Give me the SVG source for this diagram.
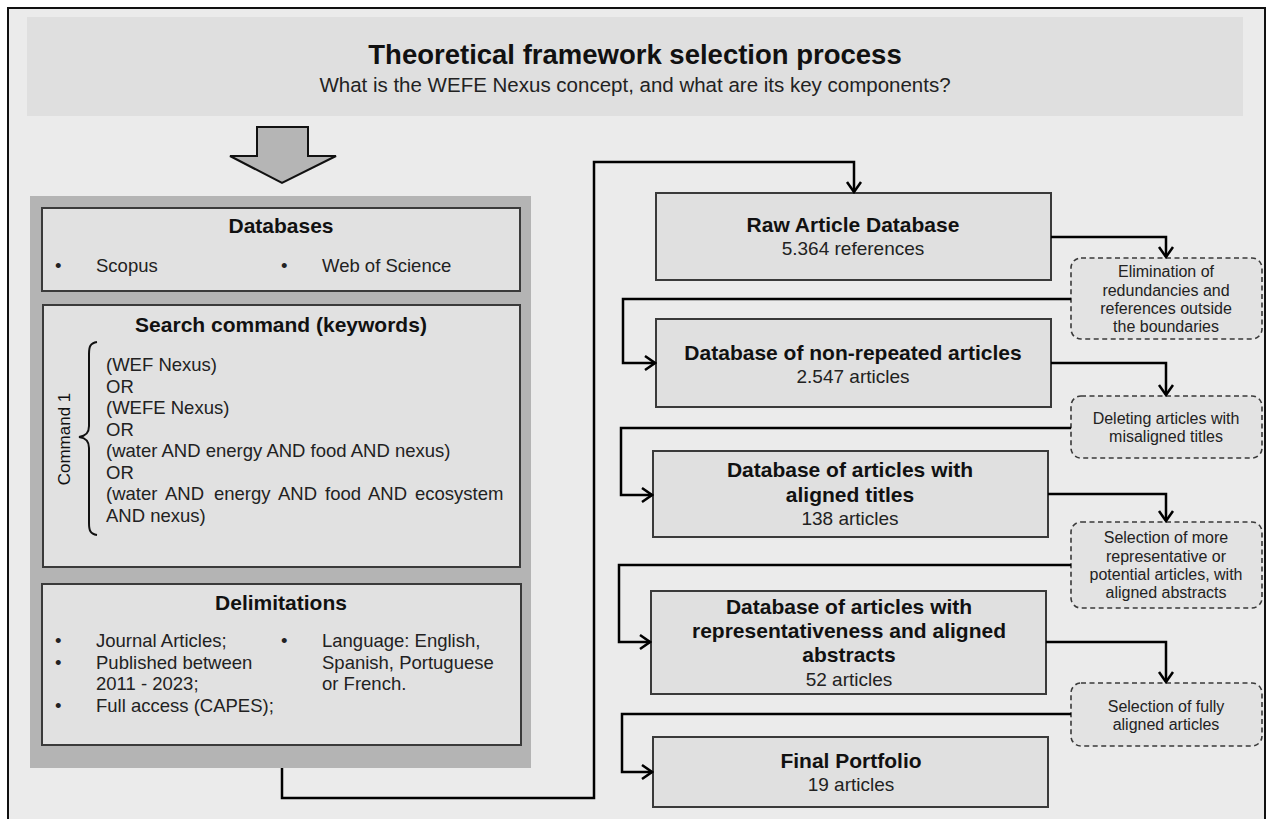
<svg xmlns="http://www.w3.org/2000/svg" width="1273" height="819" viewBox="0 0 1273 819">
<defs>
<style>
.t{font-family:"Liberation Sans",Arial,sans-serif;fill:#111}
.b{font-weight:bold}
.c{text-anchor:middle}
.title{font-size:27.5px}
.sub{font-size:20.5px;fill:#222}
.hd{font-size:21px}
.body{font-size:18.5px;fill:#222}
.cnt{font-size:19px;fill:#222}
.dt{font-size:16px;fill:#222}
.box{fill:#e0e0e0;stroke:#3a3a3a;stroke-width:2}
.ibox{fill:#e1e1e1;stroke:#3a3a3a;stroke-width:2}
.dbox{fill:#e3e3e3;stroke:#3a3a3a;stroke-width:1.6;stroke-dasharray:5 3.5}
.con{fill:none;stroke:#000;stroke-width:2.5}
</style>
<marker id="ah" viewBox="-13 -9 15 18" refX="0" refY="0" markerWidth="15" markerHeight="18" orient="auto" markerUnits="userSpaceOnUse">
<path d="M-10,-7 L0,0 L-10,7" fill="none" stroke="#000" stroke-width="2.5"/>
</marker>
</defs>
<rect x="0" y="0" width="1273" height="819" fill="#ffffff"/>
<rect x="8" y="8" width="1257" height="840" fill="#ebebeb" stroke="#111" stroke-width="2"/>

<g id="title">
<rect x="27" y="17" width="1216" height="99" fill="#dfdfdf"/>
<text class="t b c title" x="635" y="64">Theoretical framework selection process</text>
<text class="t c sub" x="635" y="92">What is the WEFE Nexus concept, and what are its key components?</text>
</g>

<g id="big-arrow">
<polygon points="257,127 308,127 308,156 336,156 282,183 230,156 257,156" fill="#b5b5b5" stroke="#111" stroke-width="2" stroke-linejoin="miter"/>
</g>

<g id="left-panel">
<rect x="30" y="196" width="501" height="572" fill="#b4b4b4"/>
</g>

<g id="databases">
<rect class="ibox" x="42" y="208" width="478" height="83"/>
<text class="t b c hd" x="281" y="233">Databases</text>
<text class="t body" x="55" y="272">•</text>
<text class="t body" x="96" y="272">Scopus</text>
<text class="t body" x="281" y="272">•</text>
<text class="t body" x="322" y="272">Web of Science</text>
</g>

<g id="search-command">
<rect class="ibox" x="43" y="305" width="477" height="262"/>
<text class="t b c hd" x="281" y="332">Search command (keywords)</text>
<path d="M97,342 C90,343 89,347 89,354 L89,426 C89,433 86,436 79,437 C86,438 89,441 89,448 L89,523 C89,530 90,534 97,535" fill="none" stroke="#111" stroke-width="2"/>
<text class="t c" font-size="17" fill="#222" x="70" y="439" transform="rotate(-90 70 439)">Command 1</text>
<text class="t body" x="106" y="371">(WEF Nexus)</text>
<text class="t body" x="106" y="392.5">OR</text>
<text class="t body" x="106" y="414">(WEFE Nexus)</text>
<text class="t body" x="106" y="435.5">OR</text>
<text class="t body" x="106" y="457">(water AND energy AND food AND nexus)</text>
<text class="t body" x="106" y="478.5">OR</text>
<text class="t body" y="500"><tspan x="106">(water</tspan><tspan x="165">AND</tspan><tspan x="214">energy</tspan><tspan x="278">AND</tspan><tspan x="325">food</tspan><tspan x="368">AND</tspan><tspan x="415">ecosystem</tspan></text>
<text class="t body" x="106" y="521.5">AND nexus)</text>
</g>

<g id="delimitations">
<rect class="ibox" x="42" y="584" width="479" height="161"/>
<text class="t b c hd" x="281" y="610">Delimitations</text>
<text class="t body" x="55" y="647">•</text>
<text class="t body" x="96" y="647">Journal Articles;</text>
<text class="t body" x="55" y="669">•</text>
<text class="t body" x="96" y="669">Published between</text>
<text class="t body" x="96" y="690">2011 - 2023;</text>
<text class="t body" x="55" y="712">•</text>
<text class="t body" x="96" y="712">Full access (CAPES);</text>
<text class="t body" x="281" y="647">•</text>
<text class="t body" x="322" y="647">Language: English,</text>
<text class="t body" x="322" y="669">Spanish, Portuguese</text>
<text class="t body" x="322" y="690">or French.</text>
</g>

<g id="raw-article-database">
<rect class="box" x="656" y="193" width="395" height="87"/>
<text class="t b c hd" x="853" y="232">Raw Article Database</text>
<text class="t c cnt" x="853" y="255">5.364 references</text>
</g>

<g id="non-repeated">
<rect class="box" x="656" y="319" width="395" height="88"/>
<text class="t b c hd" x="853" y="360">Database of non-repeated articles</text>
<text class="t c cnt" x="853" y="383">2.547 articles</text>
</g>

<g id="aligned-titles">
<rect class="box" x="653" y="451" width="395" height="86"/>
<text class="t b c hd" x="850" y="477">Database of articles with</text>
<text class="t b c hd" x="850" y="502">aligned titles</text>
<text class="t c cnt" x="850" y="525">138 articles</text>
</g>

<g id="aligned-abstracts">
<rect class="box" x="651" y="591" width="395" height="103"/>
<text class="t b c hd" x="849" y="614">Database of articles with</text>
<text class="t b c hd" x="849" y="638">representativeness and aligned</text>
<text class="t b c hd" x="849" y="662">abstracts</text>
<text class="t c cnt" x="849" y="686">52 articles</text>
</g>

<g id="final-portfolio">
<rect class="box" x="653" y="737" width="395" height="70"/>
<text class="t b c hd" x="851" y="768">Final Portfolio</text>
<text class="t c cnt" x="851" y="791">19 articles</text>
</g>

<g id="step-elimination">
<rect class="dbox" x="1071" y="258" width="191" height="81" rx="10"/>
<text class="t c dt" x="1166" y="277">Elimination of</text>
<text class="t c dt" x="1166" y="295.5">redundancies and</text>
<text class="t c dt" x="1166" y="314">references outside</text>
<text class="t c dt" x="1166" y="332">the boundaries</text>
</g>

<g id="step-deleting">
<rect class="dbox" x="1071" y="396" width="191" height="62" rx="10"/>
<text class="t c dt" x="1166" y="424">Deleting articles with</text>
<text class="t c dt" x="1166" y="442">misaligned titles</text>
</g>

<g id="step-representative">
<rect class="dbox" x="1071" y="522" width="191" height="86" rx="10"/>
<text class="t c dt" x="1166" y="543">Selection of more</text>
<text class="t c dt" x="1166" y="562">representative or</text>
<text class="t c dt" x="1166" y="580">potential articles, with</text>
<text class="t c dt" x="1166" y="598">aligned abstracts</text>
</g>

<g id="step-fully">
<rect class="dbox" x="1071" y="683" width="191" height="63" rx="10"/>
<text class="t c dt" x="1166" y="712">Selection of fully</text>
<text class="t c dt" x="1166" y="730">aligned articles</text>
</g>

<g id="connectors">
<path class="con" d="M282,768 V798 H594 V162 H854 V192" marker-end="url(#ah)"/>
<path class="con" d="M1051,237 H1166 V257" marker-end="url(#ah)"/>
<path class="con" d="M1071,299 H623 V363 H655" marker-end="url(#ah)"/>
<path class="con" d="M1051,363 H1166 V395" marker-end="url(#ah)"/>
<path class="con" d="M1071,428 H621 V495 H652" marker-end="url(#ah)"/>
<path class="con" d="M1048,494 H1166 V521" marker-end="url(#ah)"/>
<path class="con" d="M1071,565 H619 V642 H650" marker-end="url(#ah)"/>
<path class="con" d="M1046,642 H1166 V682" marker-end="url(#ah)"/>
<path class="con" d="M1071,714 H622 V772 H652" marker-end="url(#ah)"/>
</g>
</svg>
